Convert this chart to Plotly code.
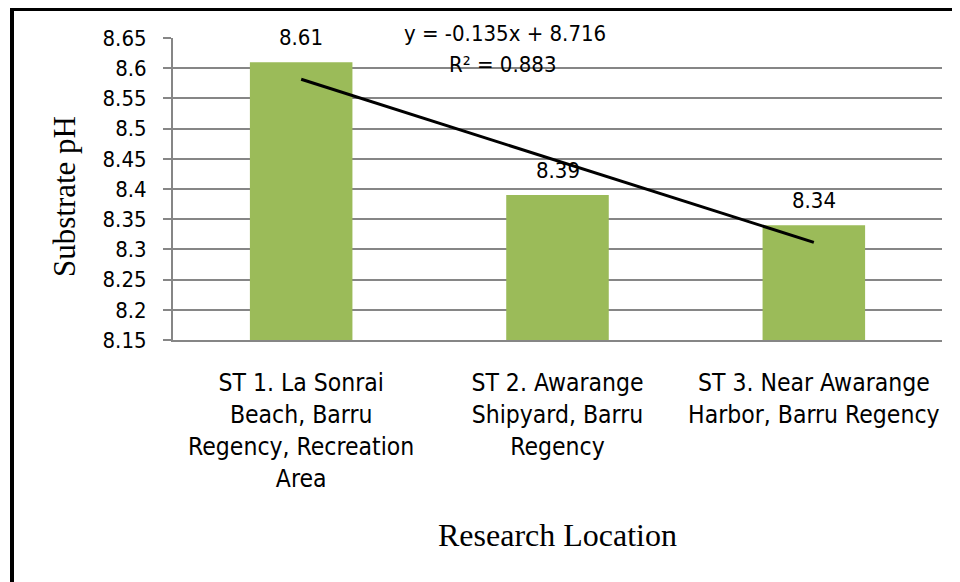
import numpy as np
import plotly.graph_objects as go

categories = [
    "ST 1. La Sonrai<br>Beach, Barru<br>Regency, Recreation<br>Area",
    "ST 2. Awarange<br>Shipyard, Barru<br>Regency",
    "ST 3. Near Awarange<br>Harbor, Barru Regency",
]
values = [8.61, 8.39, 8.34]
value_labels = ["8.61", "8.39", "8.34"]
y_ticks = [8.15, 8.2, 8.25, 8.3, 8.35, 8.4, 8.45, 8.5, 8.55, 8.6, 8.65]
y_tick_labels = ["8.15", "8.2", "8.25", "8.3", "8.35", "8.4", "8.45", "8.5", "8.55", "8.6", "8.65"]
eq_text = "y = -0.135x + 8.716"
r2_text = "R² = 0.883"

NARROW = "Liberation Sans Narrow, Arial Narrow, DejaVu Sans Condensed, sans-serif"
SERIF = "Liberation Serif, Times New Roman, serif"

# linear trendline (Excel-style, x = 1..n)
xi = np.arange(1, len(values) + 1)
slope, intercept = np.polyfit(xi, values, 1)
trend = slope * xi + intercept

fig = go.Figure()
fig.add_trace(go.Bar(x=categories, y=values, marker=dict(color="#9BBB59", line=dict(width=0)),
                     showlegend=False, hoverinfo="skip"))
fig.add_trace(go.Scatter(x=[categories[0], categories[-1]], y=[trend[0], trend[-1]], mode="lines",
                         line=dict(color="black", width=3), showlegend=False, hoverinfo="skip"))

for c, v, t in zip(categories, values, value_labels):
    fig.add_annotation(x=c, y=v, text=t, showarrow=False, xanchor="center", yanchor="middle", yshift=25,
                       font=dict(family=NARROW, size=22, color="black"))

# plot area in screenshot pixels: x 173..942, y 38..340
def px(x):
    return (x - 173) / 769

def py(y):
    return (340 - y) / 302

fig.add_annotation(xref="paper", yref="paper", x=px(505), y=py(33), text=eq_text, showarrow=False,
                   xanchor="center", yanchor="middle", font=dict(family=NARROW, size=22, color="black"))
fig.add_annotation(xref="paper", yref="paper", x=px(502), y=py(64), text=r2_text, showarrow=False,
                   xanchor="center", yanchor="middle", font=dict(family=NARROW, size=22, color="black"))

# axis titles
fig.add_annotation(xref="paper", yref="paper", x=px(64), y=py(197),
                   text="Substrate pH", textangle=-90, showarrow=False, xanchor="center", yanchor="middle",
                   font=dict(family=SERIF, size=31, color="black"))
fig.add_annotation(xref="paper", yref="paper", x=px(557), y=py(535),
                   text="Research Location", showarrow=False, xanchor="center", yanchor="middle",
                   font=dict(family=SERIF, size=32, color="black"))

# outer frame
fig.add_shape(type="rect", xref="paper", yref="paper",
              x0=px(12), x1=px(990), y0=py(620), y1=py(9),
              line=dict(color="black", width=4), fillcolor="rgba(0,0,0,0)", layer="above")

fig.update_layout(
    width=960, height=582,
    margin=dict(l=165, r=26, t=30, b=250),
    paper_bgcolor="white", plot_bgcolor="white",
    bargap=0.6,
    font=dict(family=NARROW, color="black"),
    xaxis=dict(showline=True, linecolor="#868686", linewidth=2, ticks="", showgrid=False,
               ticklabelstandoff=20,
               tickfont=dict(family=NARROW, size=24.5, color="black"), fixedrange=True),
    yaxis=dict(range=[8.15, 8.65], tickvals=y_ticks, ticktext=y_tick_labels,
               showgrid=True, gridcolor="#868686", gridwidth=2,
               showline=True, linecolor="#868686", linewidth=2,
               ticks="outside", ticklen=8, tickcolor="#868686", tickwidth=2,
               ticklabelstandoff=12,
               tickfont=dict(family=NARROW, size=22, color="black"), zeroline=False),
)

fig.write_html("out.html")
